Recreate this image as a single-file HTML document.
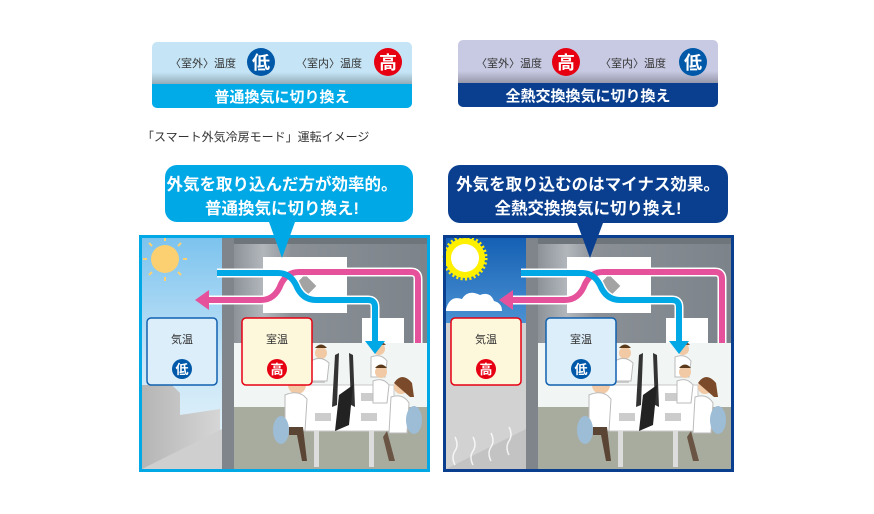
<!DOCTYPE html>
<html><head><meta charset="utf-8"><style>
html,body{margin:0;padding:0;background:#fff;width:874px;height:514px;overflow:hidden}
svg{display:block;font-family:"Liberation Sans","Noto Sans CJK JP",sans-serif}
</style></head><body>
<svg width="874" height="514" viewBox="0 0 874 514" xmlns="http://www.w3.org/2000/svg">
<defs>
<linearGradient id="sh" x1="0" y1="0" x2="0" y2="1"><stop offset="0" stop-color="#000" stop-opacity="0"/><stop offset="1" stop-color="#000" stop-opacity="0.25"/></linearGradient>
<linearGradient id="sky1" x1="0" y1="0" x2="0" y2="1"><stop offset="0" stop-color="#7cc3ee"/><stop offset="0.55" stop-color="#c9e6f7"/><stop offset="1" stop-color="#eaf5fb"/></linearGradient>
<linearGradient id="sky2" x1="0" y1="0" x2="0" y2="1"><stop offset="0" stop-color="#1560b4"/><stop offset="0.5" stop-color="#5ea3dd"/><stop offset="1" stop-color="#d6ebf8"/></linearGradient>
<linearGradient id="wall" x1="0" y1="0" x2="1" y2="0"><stop offset="0" stop-color="#8c9298"/><stop offset="0.15" stop-color="#b2b7bc"/><stop offset="0.3" stop-color="#8a9096"/><stop offset="1" stop-color="#7c838a"/></linearGradient>
<linearGradient id="bld" x1="0" y1="0" x2="1" y2="0"><stop offset="0" stop-color="#b5b5b5"/><stop offset="1" stop-color="#d6d6d6"/></linearGradient>

<g id="room">
 <rect x="0" y="0" width="291" height="237" fill="#fff"/>
 <rect x="95" y="3" width="193" height="105" fill="url(#wall)"/>
 <rect x="95" y="3" width="193" height="6" fill="#6e757b"/>
 <rect x="95" y="108" width="193" height="126" fill="#f1f5f3"/>
 <rect x="95" y="172" width="193" height="62" fill="#a8ac9f"/>
 <rect x="83" y="3" width="12" height="231" fill="#7f858b"/>
 <rect x="124" y="22" width="84" height="56" fill="#fff"/>
 <rect x="223" y="83" width="42" height="25" fill="#fff"/>
 <rect x="158" y="43" width="16" height="16" fill="#a3a3a3" transform="rotate(45 166 51)"/>
 <g>
  <rect x="160" y="150" width="95" height="46" fill="#fff" stroke="#c8c8c8"/>
  <rect x="175" y="196" width="5" height="36" fill="#ddd"/><rect x="230" y="196" width="5" height="36" fill="#ddd"/>
  <polygon points="196,120 200,118 198,170 193,172" fill="#333"/>
  <polygon points="210,118 214,120 216,172 212,170" fill="#333"/>
  <polygon points="200,160 214,150 210,190 196,196" fill="#222"/>
  <rect x="172" y="140" width="14" height="8" fill="#ccc"/><rect x="222" y="158" width="16" height="8" fill="#ccc"/>
  <rect x="176" y="178" width="16" height="8" fill="#ccc"/><rect x="222" y="178" width="16" height="8" fill="#ccc"/>
  <circle cx="182" cy="118" r="6" fill="#f1c9a5"/><path d="M176 113 q6 -7 12 0" fill="#5a3a1a"/>
  <path d="M172 126 q10 -6 18 2 l-2 18 h-16z" fill="#fff" stroke="#bbb"/>
  <circle cx="240" cy="114" r="6" fill="#f1c9a5"/><path d="M232 110 q8 -8 15 0" fill="#7a4a2a"/>
  <path d="M232 122 q10 -4 16 4 l-2 16 h-14z" fill="#fff" stroke="#bbb"/>
  <circle cx="242" cy="137" r="6" fill="#f1c9a5"/><path d="M236 133 q6 -7 12 0" fill="#5a3a1a"/>
  <path d="M234 146 q10 -4 16 4 l-2 18 h-14z" fill="#fff" stroke="#bbb"/>
  <circle cx="262" cy="152" r="7" fill="#f1c9a5"/><path d="M255 148 q8 -12 18 0 l2 14 h-4z" fill="#7a4a2a"/>
  <path d="M252 162 q12 -4 18 6 l-2 30 h-18z" fill="#fff" stroke="#bbb"/>
  <ellipse cx="275" cy="185" rx="8" ry="14" fill="#9dbcd6"/>
  <path d="M248 196 l8 30 h-6 l-6 -24z" fill="#6a5544"/>
  <circle cx="158" cy="150" r="9" fill="#f1c9a5"/><path d="M148 148 q10 -14 20 -2 l-2 -4z" fill="#3a2a1a"/>
  <path d="M146 160 q14 -6 22 4 l-2 32 h-20z" fill="#fff" stroke="#bbb"/>
  <ellipse cx="142" cy="195" rx="8" ry="14" fill="#9dbcd6"/>
  <path d="M150 192 h14 l4 34 h-5 l-5 -26 h-8z" fill="#5a4535"/>
 </g>
</g>
</defs>

<rect x="152" y="42" width="260" height="66" rx="5" fill="#c5e5f6"/>
<rect x="152" y="72" width="260" height="12" fill="url(#sh)"/>
<path d="M152 84 h260 v19 a5 5 0 0 1 -5 5 h-250 a5 5 0 0 1 -5 -5z" fill="#00abe8"/>
<text x="170" y="67" font-size="11" fill="#333">〈室外〉温度</text>
<circle cx="261" cy="62" r="14" fill="#0058a8"/><text x="261" y="69" font-size="18" font-weight="bold" fill="#fff" text-anchor="middle">低</text>
<text x="296" y="67" font-size="11" fill="#333">〈室内〉温度</text>
<circle cx="388" cy="62" r="14" fill="#e60012"/><text x="388" y="69" font-size="18" font-weight="bold" fill="#fff" text-anchor="middle">高</text>
<text x="282" y="102" font-size="15" font-weight="bold" fill="#fff" text-anchor="middle">普通換気に切り換え</text>

<rect x="458" y="40" width="260" height="67" rx="5" fill="#c8cae3"/>
<rect x="458" y="71" width="260" height="12" fill="url(#sh)"/>
<path d="M458 83 h260 v19 a5 5 0 0 1 -5 5 h-250 a5 5 0 0 1 -5 -5z" fill="#0a3f8f"/>
<text x="476" y="67" font-size="11" fill="#333">〈室外〉温度</text>
<circle cx="566" cy="62" r="14" fill="#e60012"/><text x="566" y="69" font-size="18" font-weight="bold" fill="#fff" text-anchor="middle">高</text>
<text x="600" y="67" font-size="11" fill="#333">〈室内〉温度</text>
<circle cx="693" cy="62" r="14" fill="#0058a8"/><text x="693" y="69" font-size="18" font-weight="bold" fill="#fff" text-anchor="middle">低</text>
<text x="588" y="101" font-size="15" font-weight="bold" fill="#fff" text-anchor="middle">全熱交換換気に切り換え</text>

<text x="142" y="141" font-size="12" fill="#333">「スマート外気冷房モード」運転イメージ</text>

<g transform="translate(139,235)">
 <use href="#room"/>
 <rect x="3" y="3" width="80" height="231" fill="url(#sky1)"/>
 <path d="M3 150 h30 l8 8 v22 l40 -6 v60 h-78z" fill="url(#bld)"/>
 <path d="M3 234 l80 -40 v40z" fill="#cfcfcf"/>
 <circle cx="26" cy="24" r="14" fill="#fcd070"/>
 <g stroke="#fcd070" stroke-width="2"><line x1="26" y1="2" x2="26" y2="6"/><line x1="26" y1="42" x2="26" y2="46"/><line x1="4" y1="24" x2="8" y2="24"/><line x1="44" y1="24" x2="48" y2="24"/><line x1="10" y1="8" x2="13" y2="11"/><line x1="42" y1="8" x2="39" y2="11"/><line x1="10" y1="40" x2="13" y2="37"/><line x1="42" y1="40" x2="39" y2="37"/></g>
 <path d="M279 108 V44 q0 -7 -7 -7 H160 q-12 0 -18 12 q-6 16 -20 16 H66" fill="none" stroke="#fff" stroke-width="9"/>
 <path d="M78 38 H139 q12 0 18 12 q6 15 20 15 H229 q7 0 7 7 V108" fill="none" stroke="#fff" stroke-width="9"/>
 <path d="M279 108 V44 q0 -7 -7 -7 H160 q-12 0 -18 12 q-6 16 -20 16 H66" fill="none" stroke="#e5529b" stroke-width="6"/>
 <polygon points="56,65 70,55 70,75" fill="#e5529b"/>
 <path d="M78 38 H139 q12 0 18 12 q6 15 20 15 H229 q7 0 7 7 V108" fill="none" stroke="#00a8e6" stroke-width="6"/>
 <polygon points="236,119 226,106 246,106" fill="#00a8e6"/>
 <rect x="8" y="83" width="70" height="67" rx="4" fill="#dceefa" stroke="#1060b0" stroke-width="1.5"/>
 <text x="43" y="108" font-size="11" text-anchor="middle" fill="#333">気温</text>
 <circle cx="43" cy="134" r="10" fill="#0058a8"/><text x="43" y="139" font-size="13" font-weight="bold" fill="#fff" text-anchor="middle">低</text>
 <rect x="103" y="83" width="70" height="67" rx="4" fill="#fdf8dc" stroke="#e60012" stroke-width="1.5"/>
 <text x="138" y="108" font-size="11" text-anchor="middle" fill="#333">室温</text>
 <circle cx="138" cy="134" r="10" fill="#e60012"/><text x="138" y="139" font-size="13" font-weight="bold" fill="#fff" text-anchor="middle">高</text>
 <rect x="1.5" y="1.5" width="288" height="234" fill="none" stroke="#00a8e6" stroke-width="3"/>
</g>
<path d="M165 165 h236 a12 12 0 0 1 12 12 v33 a12 12 0 0 1 -12 12 h-106 l-13 36 l-13 -36 h-92 a12 12 0 0 1 -12 -12 v-33 a12 12 0 0 1 12 -12z" fill="#00a8e6"/>
<text x="282" y="190" font-size="16.5" font-weight="bold" fill="#fff" text-anchor="middle">外気を取り込んだ方が効率的。</text>
<text x="282" y="214" font-size="16.5" font-weight="bold" fill="#fff" text-anchor="middle">普通換気に切り換え!</text>

<g transform="translate(443,235)">
 <use href="#room"/>
 <rect x="3" y="3" width="80" height="231" fill="url(#sky2)"/>
 <path d="M3 74 q4 -14 16 -10 q6 -10 18 -4 q10 -4 14 6 q8 2 8 10 h-56z" fill="#fff"/>
 <rect x="3" y="88" width="80" height="146" fill="#d2d2d2"/>
 <path d="M3 234 l80 -40 v40z" fill="#c3c3c3"/>
 <g fill="none" stroke="#fff" stroke-width="1.5" opacity="0.8"><path d="M12 230 q-4 -8 0 -14 q4 -6 0 -14"/><path d="M30 230 q-4 -8 0 -14 q4 -6 0 -14"/><path d="M48 226 q-4 -8 0 -14 q4 -6 0 -14"/><path d="M66 220 q-4 -8 0 -14 q4 -6 0 -14"/></g>
 <circle cx="22" cy="23" r="20" fill="#fff000" stroke="#fff000" stroke-width="5" stroke-dasharray="2 2.2"/>
 <circle cx="22" cy="23" r="14" fill="#fff"/>
 <path d="M279 108 V44 q0 -7 -7 -7 H160 q-12 0 -18 12 q-6 16 -20 16 H66" fill="none" stroke="#fff" stroke-width="9"/>
 <path d="M78 38 H139 q12 0 18 12 q6 15 20 15 H229 q7 0 7 7 V108" fill="none" stroke="#fff" stroke-width="9"/>
 <path d="M279 108 V44 q0 -7 -7 -7 H160 q-12 0 -18 12 q-6 16 -20 16 H66" fill="none" stroke="#e5529b" stroke-width="6"/>
 <polygon points="56,65 70,55 70,75" fill="#e5529b"/>
 <path d="M78 38 H139 q12 0 18 12 q6 15 20 15 H229 q7 0 7 7 V108" fill="none" stroke="#00a8e6" stroke-width="6"/>
 <polygon points="236,119 226,106 246,106" fill="#00a8e6"/>
 <rect x="8" y="83" width="70" height="67" rx="4" fill="#fdf8dc" stroke="#e60012" stroke-width="1.5"/>
 <text x="43" y="108" font-size="11" text-anchor="middle" fill="#333">気温</text>
 <circle cx="43" cy="134" r="10" fill="#e60012"/><text x="43" y="139" font-size="13" font-weight="bold" fill="#fff" text-anchor="middle">高</text>
 <rect x="103" y="83" width="70" height="67" rx="4" fill="#dceefa" stroke="#1060b0" stroke-width="1.5"/>
 <text x="138" y="108" font-size="11" text-anchor="middle" fill="#333">室温</text>
 <circle cx="138" cy="134" r="10" fill="#0058a8"/><text x="138" y="139" font-size="13" font-weight="bold" fill="#fff" text-anchor="middle">低</text>
 <rect x="1.5" y="1.5" width="288" height="234" fill="none" stroke="#0a3f8f" stroke-width="3"/>
</g>
<path d="M460 165 h256 a12 12 0 0 1 12 12 v34 a12 12 0 0 1 -12 12 h-113 l-13 35 l-13 -35 h-117 a12 12 0 0 1 -12 -12 v-34 a12 12 0 0 1 12 -12z" fill="#0a3f8f"/>
<text x="588" y="190" font-size="16.5" font-weight="bold" fill="#fff" text-anchor="middle">外気を取り込むのはマイナス効果。</text>
<text x="588" y="214" font-size="16.5" font-weight="bold" fill="#fff" text-anchor="middle">全熱交換換気に切り換え!</text>
</svg>
</body></html>
